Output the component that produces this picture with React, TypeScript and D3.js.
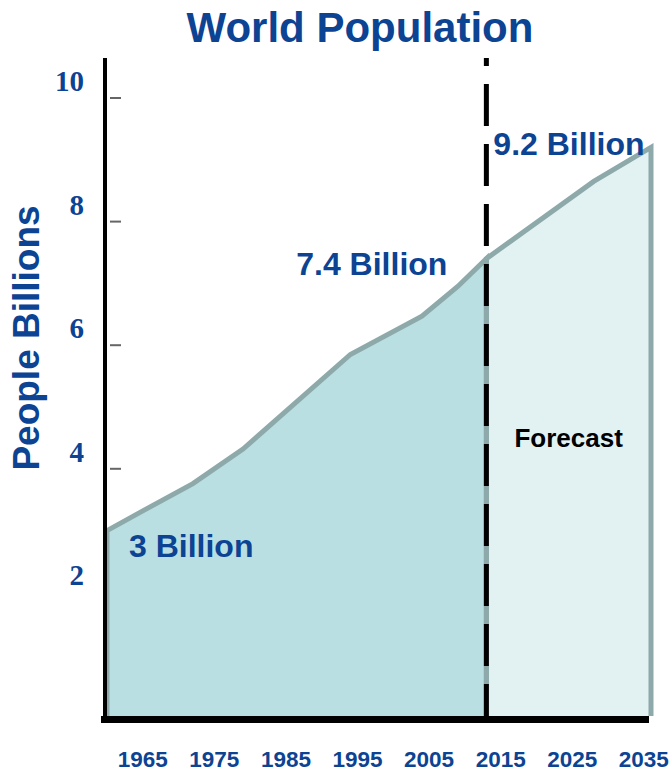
import React from "react";
import * as d3 from "d3";

// Population estimates (billions) by year; 2013 marks the start of the forecast
const years = [1960, 1965, 1972, 1979, 1994, 2004, 2009, 2013, 2028, 2036];
const population = [3.0, 3.32, 3.76, 4.32, 5.85, 6.47, 6.95, 7.4, 8.65, 9.2];
const forecastStart = 2013;
const yTicks = [2, 4, 6, 8, 10];
const xTickYears = [1965, 1975, 1985, 1995, 2005, 2015, 2025, 2035];

const W = 669;
const H = 771;
const BLUE = "#0c4392";
const SANS = "'Liberation Sans', Arial, sans-serif";
const SERIF = "'Liberation Serif', 'Times New Roman', serif";

type Pt = { year: number; v: number };

export default function App() {
  const data: Pt[] = years.map((year, i) => ({ year, v: population[i] }));
  const past = data.filter((d) => d.year <= forecastStart);
  const future = data.filter((d) => d.year >= forecastStart);

  const x = d3.scaleLinear().domain([1960, 2036]).range([107, 651]);
  const y = d3.scaleLinear().domain([0, 10]).range([716, 98]);

  const area = d3
    .area<Pt>()
    .x((d) => x(d.year))
    .y0(y(0))
    .y1((d) => y(d.v));

  const outline = d3
    .line<Pt>()
    .x((d) => x(d.year))
    .y((d) => y(d.v));

  const edged = (pts: Pt[]): Pt[] => [
    { year: pts[0].year, v: 0 },
    ...pts,
    { year: pts[pts.length - 1].year, v: 0 },
  ];

  const first = data[0];
  const last = data[data.length - 1];
  const pivot = data.find((d) => d.year === forecastStart)!;
  const xb = x(forecastStart);

  return (
    <svg
      width={W}
      height={H}
      style={{ position: "absolute", left: 0, top: 0, background: "#fff" }}
    >
      <text
        x={360}
        y={42}
        textAnchor="middle"
        fontFamily={SANS}
        fontWeight="bold"
        fontSize={42}
        fill={BLUE}
      >
        World Population
      </text>

      <text
        transform={`translate(39, 338) rotate(-90)`}
        textAnchor="middle"
        fontFamily={SANS}
        fontWeight="bold"
        fontSize={37}
        fill={BLUE}
      >
        People Billions
      </text>

      {/* y ticks */}
      {yTicks.map((t) => (
        <g key={t}>
          <line x1={110} x2={121} y1={y(t)} y2={y(t)} stroke="#666" strokeWidth={2} />
          <text
            x={84}
            y={y(t) - 7}
            textAnchor="end"
            fontFamily={SERIF}
            fontWeight="bold"
            fontSize={29}
            fill={BLUE}
          >
            {t}
          </text>
        </g>
      ))}

      {/* filled areas */}
      <path d={area(past) || ""} fill="#b9dfe2" />
      <path d={area(future) || ""} fill="#e2f2f3" />
      <path
        d={outline(edged(past)) || ""}
        fill="none"
        stroke="#8ea9aa"
        strokeWidth={5}
      />
      <path
        d={outline(edged(future)) || ""}
        fill="none"
        stroke="#8ea9aa"
        strokeWidth={5}
      />

      {/* forecast divider */}
      <line
        x1={xb}
        x2={xb}
        y1={58}
        y2={722}
        stroke="#000"
        strokeWidth={5}
        strokeDasharray="42 18"
        strokeDashoffset={34}
      />

      {/* axes */}
      <line x1={105} x2={105} y1={58} y2={723} stroke="#000" strokeWidth={4} />
      <line x1={101} x2={x(2036) - 2} y1={y(0) + 3.5} y2={y(0) + 3.5} stroke="#000" strokeWidth={7} />

      {xTickYears.map((yr) => (
        <text
          key={yr}
          x={x(yr)}
          y={767}
          textAnchor="middle"
          fontFamily={SANS}
          fontWeight="bold"
          fontSize={22.5}
          fill={BLUE}
        >
          {yr}
        </text>
      ))}

      {/* value annotations */}
      <text
        x={x(first.year) + 22}
        y={y(first.v) + 26}
        fontFamily={SANS}
        fontWeight="bold"
        fontSize={32}
        fill={BLUE}
      >
        {`${first.v} Billion`}
      </text>
      <text
        x={xb - 39}
        y={y(pivot.v) + 16}
        textAnchor="end"
        fontFamily={SANS}
        fontWeight="bold"
        fontSize={32}
        fill={BLUE}
      >
        {`${pivot.v} Billion`}
      </text>
      <text
        x={xb + 7}
        y={y(last.v) + 8}
        fontFamily={SANS}
        fontWeight="bold"
        fontSize={32}
        fill={BLUE}
      >
        {`${last.v} Billion`}
      </text>

      <text
        x={(xb + x(last.year)) / 2}
        y={447}
        textAnchor="middle"
        fontFamily={SANS}
        fontWeight="bold"
        fontSize={26}
        fill="#000"
      >
        Forecast
      </text>
    </svg>
  );
}
